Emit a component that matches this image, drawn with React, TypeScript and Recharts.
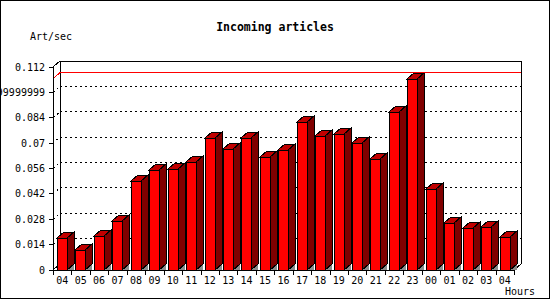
import React from 'react';
import { BarChart, Bar, XAxis, YAxis, CartesianGrid, ReferenceLine } from 'recharts';

const hours = ['04', '05', '06', '07', '08', '09', '10', '11', '12', '13', '14', '15', '16', '17', '18', '19', '20', '21', '22', '23', '00', '01', '02', '03', '04'];
const artPerSec = [0.0175, 0.011, 0.0187, 0.027, 0.0489, 0.0549, 0.0555, 0.0598, 0.0726, 0.067, 0.0731, 0.0624, 0.0661, 0.0814, 0.0742, 0.0753, 0.0698, 0.0615, 0.0872, 0.1056, 0.0445, 0.0257, 0.023, 0.0235, 0.018];
const yTicks = [0, 0.014, 0.028, 0.042, 0.056, 0.07, 0.084, 0.098, 0.112];
const yTickLabels = ['0', '0.014', '0.028', '0.042', '0.056', '0.07', '0.084', '0.09799999999', '0.112'];

const data = hours.map((hour, i) => ({ hour, rate: artPerSec[i] }));
const peak = Math.max(...artPerSec);

const W = 550;
const H = 300;
const DX = 7; // depth of the 3d look
const DY = 6;
const MARGIN = { top: 67, right: 36, bottom: 0, left: 0 };
const Y_AXIS_W = 53;
const X_AXIS_H = 30;
const X_TICK = 5;
const FONT = '"DejaVu Sans Mono", monospace';

// back wall, floor edges and dotted grid, all shifted by the depth
const GridLine = (p: any) => {
    const top = p.y ?? MARGIN.top;
    const bottom = p.height != null ? top + p.height : H - X_AXIS_H;
    const { x1, x2, y1 } = p;
    const key = `grid-${p.index}`;
    if (Math.abs(y1 - bottom) < 1) return <g key={key} />;
    if (Math.abs(y1 - top) < 1) {
        return (
            <g key={key} fill="none" stroke="#000">
                <polyline points={`${x1},${top} ${x1 + DX},${top - DY} ${x2 + DX},${top - DY} ${x2 + DX},${bottom - DY} ${x2},${bottom}`} />
                <line x1={x1 + DX} y1={top - DY} x2={x1 + DX} y2={bottom - DY} />
                <line x1={x1} y1={bottom} x2={x1 + DX} y2={bottom - DY} />
            </g>
        );
    }
    return (
        <g key={key} stroke="#000" strokeDasharray="2 3">
            <line x1={x1 + DX} y1={y1 - DY} x2={x2 + DX} y2={y1 - DY} />
            <line x1={x1} y1={y1} x2={x1 + DX} y2={y1 - DY} />
        </g>
    );
};

const PeakLine = (p: any) => (
    <g stroke="#ff0000" fill="none">
        <line x1={p.x1 + DX} y1={p.y1 - DY} x2={p.x2 + DX} y2={p.y2 - DY} />
        <line x1={p.x1} y1={p.y1} x2={p.x1 + DX} y2={p.y1 - DY} />
    </g>
);

const Bar3D = (p: any) => {
    if (p.height == null || p.width == null) return <g />;
    const l = Math.round(p.x);
    const r = Math.round(p.x + p.width);
    const t = Math.round(p.y);
    const b = Math.round(p.y + p.height);
    return (
        <g stroke="#000" strokeWidth={1}>
            <polygon points={`${r},${b} ${r + DX},${b - DY} ${r + DX},${b}`} fill="#8c8c8c" stroke="none" />
            <polygon points={`${r},${t} ${r + DX},${t - DY} ${r + DX},${b - DY} ${r},${b}`} fill="#800000" />
            <polygon points={`${l},${t} ${l + DX},${t - DY} ${r + DX},${t - DY} ${r},${t}`} fill="#c00000" />
            <rect x={l} y={t} width={r - l} height={b - t} fill="#ff0000" />
        </g>
    );
};

const HourTick = (p: any) => {
    const count = p.visibleTicksCount || hours.length;
    const band = p.width > 100 ? p.width / count : (W - MARGIN.right - Y_AXIS_W) / hours.length;
    const left = Math.round(p.x - band / 2);
    const right = Math.round(p.x + band / 2);
    return (
        <g>
            <line x1={left} y1={p.y - X_TICK} x2={left} y2={p.y} stroke="#000" />
            {p.index === count - 1 && <line x1={right} y1={p.y - X_TICK} x2={right} y2={p.y} stroke="#000" />}
            <text x={p.x} y={p.y + 8.5} textAnchor="middle" fontFamily={FONT} fontSize={10} fill="#000">
                {p.payload.value}
            </text>
        </g>
    );
};

const RateTick = (p: any) => {
    const i = yTicks.indexOf(p.payload.value);
    return (
        <text x={p.x} y={p.y + 3.6} textAnchor="end" fontFamily={FONT} fontSize={10} fill="#000">
            {i >= 0 ? yTickLabels[i] : String(p.payload.value)}
        </text>
    );
};

const App: React.FC = () => {
    return (
        <div style={{ position: 'absolute', left: 0, top: 0, width: W, height: H, background: '#fff', fontFamily: FONT, color: '#000' }}>
            <BarChart width={W} height={H} data={data} margin={MARGIN} style={{ shapeRendering: 'crispEdges' }}>
                <CartesianGrid vertical={false} horizontal={GridLine} />
                <ReferenceLine y={peak} stroke="#ff0000" shape={PeakLine} />
                <Bar dataKey="rate" barSize={10} shape={Bar3D} isAnimationActive={false} />
                <XAxis
                    dataKey="hour"
                    interval={0}
                    height={X_AXIS_H}
                    tickLine={false}
                    tickSize={X_TICK}
                    tickMargin={0}
                    axisLine={{ stroke: '#000' }}
                    tick={HourTick}
                />
                <YAxis
                    domain={[0, 0.112]}
                    ticks={yTicks}
                    interval={0}
                    width={Y_AXIS_W}
                    tickSize={4}
                    tickMargin={4}
                    axisLine={{ stroke: '#000' }}
                    tickLine={{ stroke: '#000' }}
                    tick={RateTick}
                />
            </BarChart>
            <div style={{ position: 'absolute', left: 0, top: 20.7, width: W, textAlign: 'center', fontSize: 11.5, fontWeight: 'bold', lineHeight: '12px' }}>
                Incoming articles
            </div>
            <div style={{ position: 'absolute', left: 30, top: 31, fontSize: 10, lineHeight: '12px' }}>Art/sec</div>
            <div style={{ position: 'absolute', left: 505, top: 286, fontSize: 10, lineHeight: '12px' }}>Hours</div>
            <div style={{ position: 'absolute', left: 0, top: 0, width: W, height: 299, border: '1px solid #000', boxSizing: 'border-box', pointerEvents: 'none' }} />
        </div>
    );
};

export default App;
